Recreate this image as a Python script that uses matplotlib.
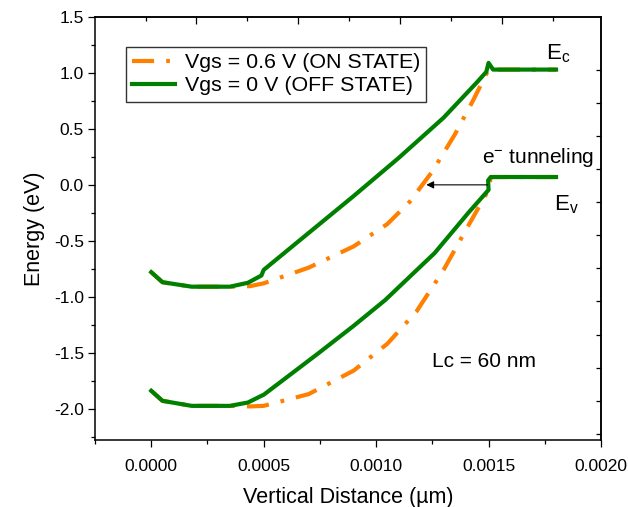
import matplotlib
matplotlib.use("Agg")
import matplotlib.pyplot as plt
from matplotlib.ticker import FixedLocator, FormatStrFormatter, MultipleLocator

plt.rcParams['font.family'] = ['Liberation Sans', 'DejaVu Sans']
plt.rcParams['mathtext.fontset'] = 'custom'
plt.rcParams['mathtext.rm'] = 'Liberation Sans'
plt.rcParams['mathtext.it'] = 'Liberation Sans:italic'
plt.rcParams['mathtext.default'] = 'regular'
plt.rcParams['axes.unicode_minus'] = False

# ---- data ----
# OFF state (Vgs = 0 V) conduction band
x_off_c = [0.0, 0.00005, 0.00018, 0.00035, 0.00043, 0.00049, 0.0005, 0.0007, 0.0009,
           0.0011, 0.0013, 0.00145, 0.00149, 0.0015, 0.00152, 0.0018]
E_off_c = [-0.78, -0.87, -0.91, -0.91, -0.875, -0.81, -0.76, -0.43, -0.10,
           0.24, 0.60, 0.92, 1.01, 1.09, 1.03, 1.03]
# OFF state valence band
x_off_v = [0.0, 0.00005, 0.00018, 0.00035, 0.00043, 0.00049, 0.0005, 0.00074, 0.0009,
           0.00104, 0.00126, 0.00141, 0.0015, 0.001498, 0.00151, 0.0018]
E_off_v = [-1.84, -1.93, -1.975, -1.975, -1.945, -1.885, -1.876, -1.51, -1.26,
           -1.03, -0.61, -0.25, -0.045, 0.04, 0.07, 0.07]
# ON state (Vgs = 0.6 V) conduction band
x_on_c = [0.0, 0.00005, 0.00018, 0.00035, 0.00044, 0.0005, 0.0007, 0.0009,
          0.00105, 0.00115, 0.00125, 0.00135, 0.00143, 0.0015, 0.0018]
E_on_c = [-0.78, -0.87, -0.91, -0.91, -0.905, -0.88, -0.74, -0.55,
          -0.35, -0.15, 0.12, 0.45, 0.75, 1.03, 1.03]
# ON state valence band
x_on_v = [0.0, 0.00005, 0.00018, 0.00035, 0.00044, 0.0005, 0.0007, 0.0009,
          0.00105, 0.00118, 0.0013, 0.0014, 0.0015, 0.00151, 0.0018]
E_on_v = [-1.84, -1.93, -1.975, -1.975, -1.98, -1.975, -1.87, -1.66,
          -1.42, -1.13, -0.76, -0.40, -0.045, 0.07, 0.07]

labels = ['Vgs = 0.6 V (ON STATE)', 'Vgs = 0 V (OFF STATE)']
x_major = [0.0, 0.0005, 0.0010, 0.0015, 0.0020]
y_major = [-2.0, -1.5, -1.0, -0.5, 0.0, 0.5, 1.0, 1.5]
top_major = [0.0002, 0.000653, 0.001106, 0.001559]
top_minor = [-0.000024, 0.000427, 0.00088, 0.001333, 0.001786]
right_ticks = [1.03, 0.734, 0.438, 0.142, -0.154, -0.45, -0.746, -1.042,
               -1.338, -1.634, -1.93, -2.226]

orange = '#ff8000'
green = '#008000'

fig = plt.figure(figsize=(6.28, 5.07), dpi=100)
ax = fig.add_axes([95/628, 1-440/507, (601-95)/628, (440-17)/507])

dash = (0, (5.3, 2.9, 0.9, 2.9))
ax.plot(x_on_c, E_on_c, color=orange, lw=3, linestyle=dash, label=labels[0])
ax.plot(x_on_v, E_on_v, color=orange, lw=3, linestyle=dash)
ax.plot(x_off_c, E_off_c, color=green, lw=3, label=labels[1], solid_joinstyle='round')
ax.plot(x_off_v, E_off_v, color=green, lw=3, solid_joinstyle='round')

ax.set_xlim(-0.00025, 0.002)
ax.set_ylim(-2.28, 1.5)

ax.xaxis.set_major_locator(FixedLocator(x_major))
ax.xaxis.set_minor_locator(MultipleLocator(0.00025))
ax.yaxis.set_major_locator(FixedLocator(y_major))
ax.yaxis.set_minor_locator(MultipleLocator(0.25))
ax.xaxis.set_major_formatter(FormatStrFormatter('%.4f'))
ax.yaxis.set_major_formatter(FormatStrFormatter('%.1f'))
ax.tick_params(which='major', direction='out', length=5, width=0.9, labelsize=12.5)
ax.tick_params(which='minor', direction='out', length=3, width=0.9)
ax.tick_params(axis='x', which='major', pad=9)
ax.tick_params(axis='y', which='major', pad=3)
for s in ax.spines.values():
    s.set_linewidth(1.1)

# top and right ticks (inward)
sec_x = ax.secondary_xaxis('top')
sec_x.set_xticks(top_major)
sec_x.xaxis.set_minor_locator(FixedLocator(top_minor))
sec_x.tick_params(which='major', direction='in', length=5, width=0.9, labeltop=False)
sec_x.tick_params(which='minor', direction='in', length=3, width=0.9)
sec_x.spines['top'].set_linewidth(1.1)
sec_y = ax.secondary_yaxis('right')
sec_y.set_yticks(right_ticks)
sec_y.tick_params(which='major', direction='in', length=3.5, width=0.9, labelright=False)
sec_y.yaxis.set_minor_locator(FixedLocator([]))
sec_y.spines['right'].set_linewidth(1.1)

ax.set_xlabel('Vertical Distance (µm)', fontsize=15.5, labelpad=9)
ax.set_ylabel('Energy (eV)', fontsize=15.5, labelpad=6)

leg = ax.legend(loc='upper left', bbox_to_anchor=(0.061, 0.93), borderaxespad=0,
                fontsize=15.4, frameon=True, fancybox=False, edgecolor='#333333',
                framealpha=1, handlelength=2.0, handletextpad=0.45,
                borderpad=0.3, labelspacing=0.2)
leg.get_frame().set_linewidth(1.0)

ax.text(0.001757, 1.12, r'E$_{c}$', fontsize=16, ha='left', va='baseline')
ax.text(0.001791, -0.224, r'E$_{v}$', fontsize=16, ha='left', va='baseline')
ax.text(0.001473, 0.195, r'e$^{-}$ tunneling', fontsize=15, ha='left', va='baseline')
ax.text(0.00125, -1.63, 'Lc = 60 nm', fontsize=15, ha='left', va='baseline')
ax.annotate('', xy=(0.001223, 0.0), xytext=(0.001496, 0.0),
            arrowprops=dict(arrowstyle='-|>', color='black', lw=0.8,
                            mutation_scale=11, shrinkA=0, shrinkB=0))

fig.savefig('out.png', dpi=100)
